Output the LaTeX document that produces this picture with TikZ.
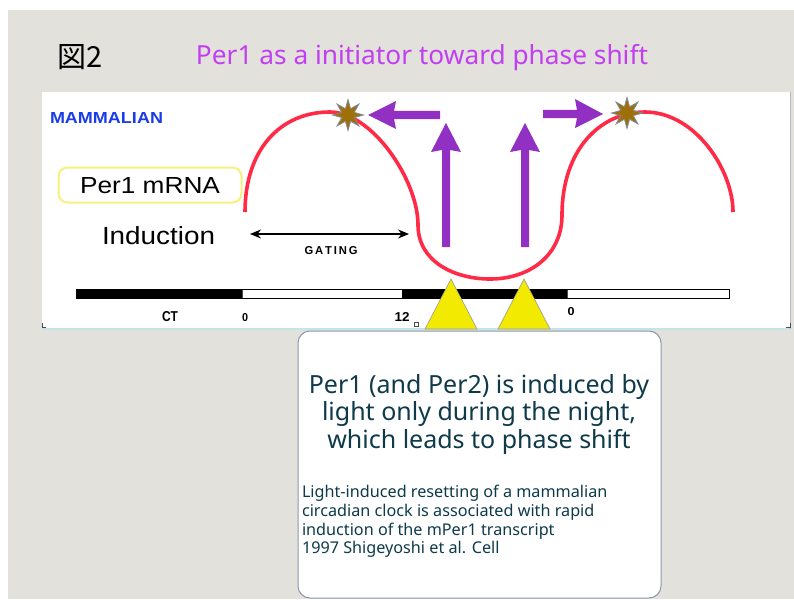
\documentclass[tikz,border=0pt]{standalone}
\usepackage{fontspec}
\setmainfont{Noto Sans}
\newfontfamily\cjkfont{Noto Sans CJK JP}
\newfontfamily\arialf{Liberation Sans}
\usetikzlibrary{shapes.geometric,arrows.meta}

\definecolor{bg}{HTML}{E3E1DB}
\definecolor{ttl}{HTML}{C13FF0}
\definecolor{mblue}{HTML}{1A3CE8}
\definecolor{curvec}{HTML}{FF2A46}
\definecolor{purp}{HTML}{9130C2}
\definecolor{starf}{HTML}{A07008}
\definecolor{starl}{HTML}{7D8C98}
\definecolor{tri}{HTML}{F2EA00}
\definecolor{boxtxt}{HTML}{0E3A4A}
\definecolor{boxline}{HTML}{8A98A8}
\definecolor{ybox}{HTML}{F8F07C}
\definecolor{panelline}{HTML}{C4E4E8}

\newcommand{\fitbx}[3]{\resizebox{#1}{#2}{#3}}

\begin{document}
\begin{tikzpicture}[x=1pt,y=-1pt,
  lbl/.style={inner sep=0pt, outer sep=0pt},
  starnode/.style={star, star points=8, star point ratio=2.3, minimum size=31pt,
    inner sep=0pt, fill=starf, draw=starl, line width=0.8pt},
  tristyle/.style={fill=tri, draw=gray!80, line width=0.6pt},
  barblack/.style={fill=black},
  barwhite/.style={fill=white, draw=black!70, line width=0.8pt},
  blockarrow/.style={fill=purp},
  gatearrow/.style={{Stealth[length=11pt,width=9pt]}-{Stealth[length=11pt,width=9pt]}, line width=1.6pt}
]
\useasboundingbox (0,0) rectangle (794,599);
\fill[white] (0,0) rectangle (794,599);
\fill[bg] (8,10) rectangle (794,599);

% panel
\fill[white] (42,92) rectangle (790,329);
\draw[gray!55, line width=0.8pt] (790,92) -- (790,329);
\draw[panelline, line width=1.6pt] (42,329) -- (790,329);
\draw[black!70, line width=0.6pt] (42,323) -- (42,327) -- (46,327);
\draw[black!70, line width=0.6pt] (786,327) -- (790,327) -- (790,323);
\draw[black!70, line width=0.6pt, fill=white] (414,322) rectangle (418,326);

% titles
\node[lbl, anchor=west] (fig) at (57,57) {\fontsize{29}{32}\selectfont\cjkfont 図2};
\node[lbl] (title) at (422,58) {\color{ttl}\fitbx{452pt}{!}{Per1 as a initiator toward phase shift}};

% labels in panel
\node[lbl, anchor=west] (mam) at (50,118) {\color{mblue}\fitbx{113pt}{11pt}{\arialf\bfseries MAMMALIAN}};
\node[draw=ybox, line width=2pt, rounded corners=9pt, minimum width=183pt, minimum height=35pt, inner sep=0pt] (mrna) at (150,185) {};
\node[lbl] (mrnatxt) at (150,186) {\fitbx{140pt}{16pt}{\arialf Per1 mRNA}};
\node[lbl, anchor=west] (ind) at (102,236) {\fitbx{113pt}{18pt}{\arialf Induction}};
\coordinate (gl) at (250,234);
\coordinate (gr) at (409,234);
\draw[gatearrow] (gl) -- (gr);
\node[lbl] (gating) at (331,251) {\fitbx{53pt}{8pt}{\arialf\bfseries G\,A\,T\,I\,N\,G}};

% bar
\fill[barblack] (76,289) rectangle (242,298);
\filldraw[barwhite] (242,289) rectangle (402,298);
\fill[barblack] (402,289) rectangle (567,298);
\filldraw[barwhite] (567,289) rectangle (729,298);
\draw[black, line width=0.6pt] (76,289) rectangle (729,298);

\node[lbl] (ct) at (170,317) {\fitbx{16pt}{10pt}{\arialf\bfseries CT}};
\node[lbl] (z1) at (245,318) {\fitbx{6pt}{8pt}{\arialf\bfseries 0}};
\node[lbl] (t12) at (402,317) {\fitbx{15pt}{9pt}{\arialf\bfseries 12}};
\node[lbl] (z2) at (571,312) {\fitbx{7pt}{8pt}{\arialf\bfseries 0}};

% red curve
\draw[curvec, line width=3.6pt] (245,212)
  .. controls (245,150) and (280,112) .. (330,112)
  .. controls (372,112) and (418,180) .. (418,225)
  .. controls (418,262) and (455,279) .. (490,279)
  .. controls (530,279) and (562,255) .. (562,215)
  .. controls (562,150) and (600,112) .. (645,112)
  .. controls (695,112) and (733,170) .. (733,212);

% stars
\node[starnode] (s1) at (348,115) {};
\node[starnode] (s2) at (627,113) {};

% block arrows
\fill[blockarrow] (440,111) -- (394,111) -- (396,101) -- (368,115) -- (396,129) -- (394,119) -- (440,119) -- cycle;
\fill[blockarrow] (543,110) -- (577,110) -- (575,99) -- (603,114) -- (575,128) -- (577,118) -- (543,118) -- cycle;
\fill[blockarrow] (442,247) -- (442,150) -- (431,152) -- (446,123) -- (461,152) -- (450,150) -- (450,247) -- cycle;
\fill[blockarrow] (521,247) -- (521,150) -- (510,152) -- (525,123) -- (540,152) -- (529,150) -- (529,247) -- cycle;

% triangles
\filldraw[tristyle] (425,329) -- (451,279) -- (477,329) -- cycle;
\filldraw[tristyle] (498,329) -- (524,279) -- (550,329) -- cycle;

% text box
\draw[boxline, fill=white, line width=1pt, rounded corners=12pt] (298,331) rectangle (661,598);
\node[lbl, align=center, text=boxtxt, font=\fontsize{25}{27.5}\selectfont] (main) at (479,414)
  {Per1 (and Per2) is induced by\\light only during the night,\\which leads to phase shift};
\node[lbl, anchor=north west, align=left, text=boxtxt, font=\fontsize{16.2}{18.8}\selectfont] (ref) at (302,485)
  {Light-induced resetting of a mammalian\\circadian clock is associated with rapid\\induction of the mPer1 transcript\\1997 Shigeyoshi et al. Cell};
\end{tikzpicture}
\end{document}
